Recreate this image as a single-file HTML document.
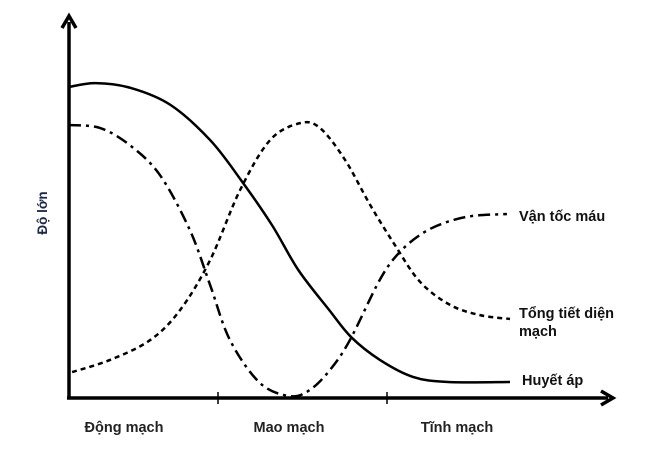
<!DOCTYPE html>
<html><head><meta charset="utf-8"><style>
body{margin:0;background:#fff;}
svg{display:block;font-family:"Liberation Sans",Arial,sans-serif;font-weight:bold;}
</style></head><body>
<svg width="661" height="454" viewBox="0 0 661 454">
<g id="axes">
<line x1="69" y1="398" x2="69" y2="22" stroke="#000" stroke-width="3.5"/>
<polyline points="62,28 69,16 76,28" fill="none" stroke="#000" stroke-width="3.5"/>
<line x1="67" y1="398" x2="608" y2="398" stroke="#000" stroke-width="3.5"/>
<polyline points="601,391 613,398 601,405" fill="none" stroke="#000" stroke-width="3.5"/>
<line x1="218" y1="392" x2="218" y2="404" stroke="#000" stroke-width="1.5"/>
<line x1="387" y1="392" x2="387" y2="404" stroke="#000" stroke-width="1.5"/>
<text x="124" y="432" font-size="14.5" text-anchor="middle" fill="#222">Động mạch</text>
<text x="289" y="432" font-size="14.5" text-anchor="middle" fill="#222">Mao mạch</text>
<text x="457" y="432" font-size="14.5" text-anchor="middle" fill="#222">Tĩnh mạch</text>
<text transform="translate(47,213) rotate(-90)" font-size="13.5" text-anchor="middle" fill="#1d2747">Độ lớn</text>
</g>
<g id="series"></g>
<text x="519" y="221" font-size="14.5" fill="#111">Vận tốc máu</text>
<text x="519" y="318" font-size="14.5" fill="#111">Tổng tiết diện</text>
<text x="519" y="336" font-size="14.5" fill="#111">mạch</text>
<text x="522" y="385" font-size="14.5" fill="#111">Huyết áp</text>
</svg>
<script>
const pressureX=[0,6,14,23,32,39,46,52,59,64,70.5,78,86,100];
const pressureY=[97.2,98.4,96.9,91.6,80.6,68.1,54.1,40,27.5,19,11.9,6.6,5,5];
const velocityX=[0,7,13.8,20.6,27.4,32,36.5,43.3,50.1,54.6,59.2,63.7,70.5,75,80.3,85.7,91.6,99.3];
const velocityY=[85.3,84.4,79,69.7,52.5,35.3,18.1,4.7,0.6,2.5,8.8,18.1,37,45.6,51.6,55,56.9,57.5];
const areaX=[0.7,9.3,18.4,25.2,32,38.8,45.6,52.4,56.9,62.6,68.3,73.9,79.6,86.4,93.2,100];
const areaY=[8.1,11.9,18.1,27.5,43.1,65,80.6,85.9,84.4,74.4,60.3,47.8,36.3,29.1,25.9,24.7];
function sx(v){return 69+v*4.41;}
function sy(v){return 398-v*3.2;}
function pathFrom(xs,ys){
  const p=xs.map((x,i)=>[sx(x),sy(ys[i])]);
  let d='M'+p[0][0]+','+p[0][1];
  for(let i=0;i<p.length-1;i++){
    const p0=p[i-1]||p[i],p1=p[i],p2=p[i+1],p3=p[i+2]||p2;
    const c1=[p1[0]+(p2[0]-p0[0])/6,p1[1]+(p2[1]-p0[1])/6];
    const c2=[p2[0]-(p3[0]-p1[0])/6,p2[1]-(p3[1]-p1[1])/6];
    d+=' C'+c1+' '+c2+' '+p2;
  }
  return d;
}
const g=document.getElementById('series');
function add(xs,ys,dash,name){
  const el=document.createElementNS('http://www.w3.org/2000/svg','path');
  el.setAttribute('d',pathFrom(xs,ys));
  el.setAttribute('fill','none');
  el.setAttribute('stroke','#000');
  el.setAttribute('stroke-width','2.5');
  if(dash)el.setAttribute('stroke-dasharray',dash);
  
  
  g.appendChild(el);
}
add(pressureX,pressureY,null,'line-huyet-ap');
add(velocityX,velocityY,'12 5 3 5','line-van-toc-mau');
add(areaX,areaY,'5 4','line-tong-tiet-dien');
</script>
</body></html>
